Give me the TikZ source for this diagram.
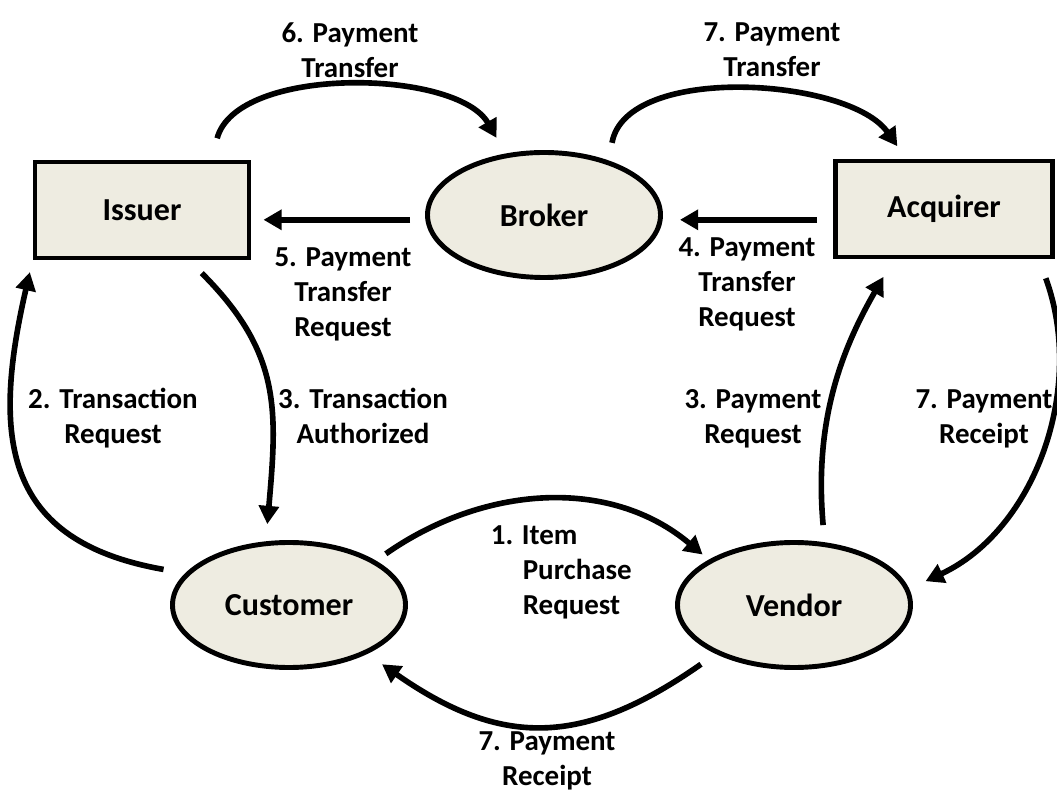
\documentclass[tikz,border=0pt]{standalone}
\usepackage{fontspec}
\setmainfont{Carlito}
\usetikzlibrary{arrows.meta,shapes.geometric}
\definecolor{paper}{HTML}{EEECE1}

\begin{document}
\begin{tikzpicture}[line width=4pt,>={Triangle[length=13pt,width=14pt]},
  party/.style={draw,fill=paper,line width=3.5pt,inner sep=0pt,
    font=\fontsize{22.8}{27}\selectfont\bfseries},
  bank/.style={party,rectangle,minimum height=2.4cm},
  actor/.style={party,ellipse,minimum width=5.825cm,minimum height=3.125cm},
  msg/.style={anchor=north,inner sep=0pt,align=center,
    font=\fontsize{20.6}{24.9}\selectfont\bfseries}]
\useasboundingbox (0,0) rectangle (26.425,19.775);
% ---------- parties ----------
\node[bank,minimum width=5.35cm] (issuer) at (3.55,14.525) {Issuer};
\node[actor] (broker) at (13.6,14.4) {Broker};
\node[bank,minimum width=5.425cm] (acquirer) at (23.6,14.55) {Acquirer};
\node[actor] (customer) at (7.225,4.65) {Customer};
\node[actor] (vendor) at (19.85,4.65) {Vendor};
% ---------- top: transfers between banks ----------
\draw[->,shorten <=0.55cm,shorten >=0.45cm] (issuer.36) to[out=75,in=120,looseness=0.85] (broker.122);
\draw[->,shorten <=0.45cm,shorten >=0.375cm] (broker.40) to[out=80,in=125,looseness=0.85] (acquirer.127);
\draw[->,shorten <=0.375cm,shorten >=0.3cm] ([yshift=-0.12cm]broker.west) -- ([yshift=-0.12cm]broker.west -| issuer.east);
\draw[->,shorten <=0.4cm,shorten >=0.425cm] ([yshift=-0.12cm]broker.east -| acquirer.west) -- ([yshift=-0.12cm]broker.east);
\node[msg] (lbl6) at (8.75,19.275) {6. Payment\\ Transfer};
\node[msg] (lbl7t) at (19.3,19.275) {7. Payment\\ Transfer};
\node[msg] (lbl5) at (8.575,13.65) {5. Payment\\Transfer\\Request};
\node[msg] (lbl4) at (18.675,13.9) {4. Payment\\Transfer\\Request};
% ---------- sides: issuer and acquirer ----------
\draw[->,shorten <=0.45cm,shorten >=0.43cm] (issuer.-47) to[out=-45,in=85,looseness=1.15] (customer.110);
\draw[->,shorten <=0.55cm,shorten >=0.3cm] (customer.163) to[out=170,in=-103,looseness=1.35] (issuer.south west);
\draw[->,shorten <=0.43cm,shorten >=0.5cm] (vendor.64) to[out=95,in=-120] (acquirer.-135);
\draw[->,shorten <=0.5cm,shorten >=0.45cm] (acquirer.-28) to[out=-70,in=25] (vendor.8);
\node[msg] (lbl2) at (2.825,10.15) {2. Transaction\\Request};
\node[msg] (lbl3t) at (9.075,10.15) {3. Transaction\\ Authorized};
\node[msg] (lbl3p) at (18.825,10.1) {3. Payment\\ Request};
\node[msg] (lbl7r) at (24.6,10.1) {7. Payment\\ Receipt};
% ---------- bottom: customer and vendor ----------
\draw[->,shorten <=0.3cm,shorten >=0.2cm] (customer.27) to[out=35,in=140] (vendor.152);
\draw[->,shorten <=0.45cm,shorten >=0.45cm] (vendor.-148) to[out=-145,in=-35,looseness=1.2] (customer.-32);
\node[msg,anchor=north west,align=left] (lbl1) at (12.2,6.7)
  {1. Item\\\hspace*{0.8cm}Purchase\\\hspace*{0.8cm}Request};
\node[msg] (lbl7b) at (13.675,1.55) {7. Payment\\ Receipt};
\end{tikzpicture}
\end{document}
